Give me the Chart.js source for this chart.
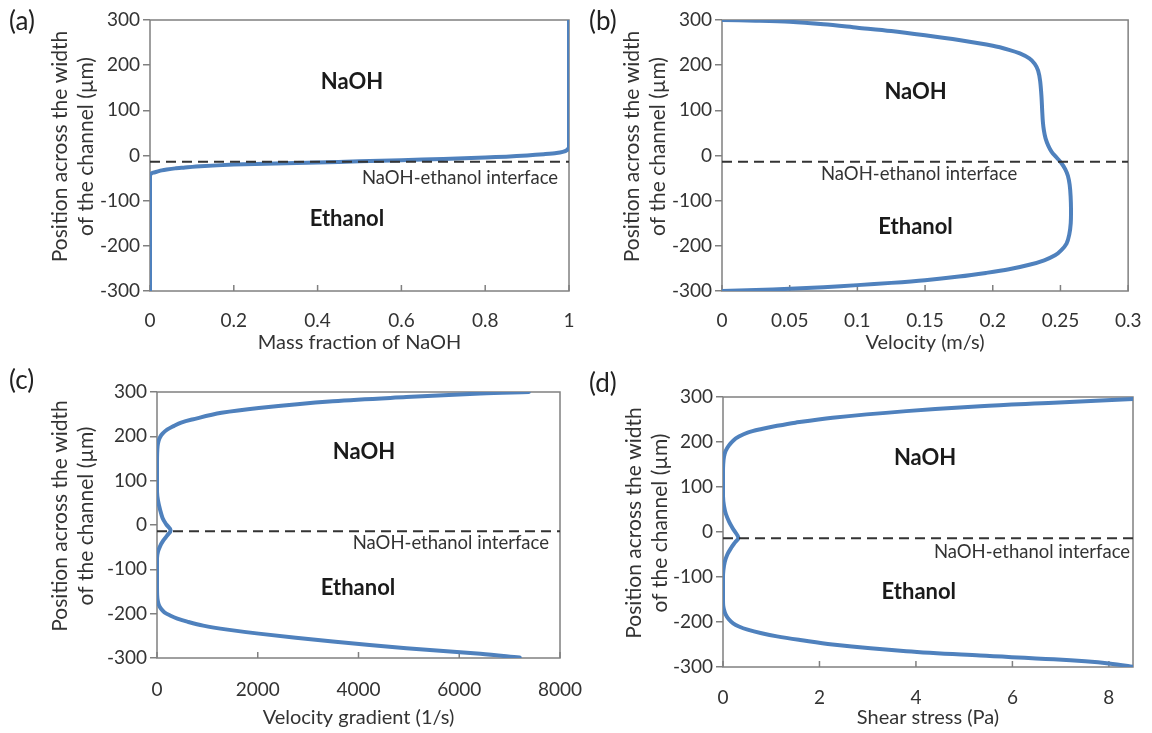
<!DOCTYPE html>
<html><head><meta charset="utf-8">
<script src="https://cdn.jsdelivr.net/npm/chart.js@4/dist/chart.umd.min.js"></script>
<style>
html,body{margin:0;padding:0;background:#fff;width:1152px;height:733px;overflow:hidden;}
canvas{position:absolute;}
</style></head><body>
<canvas id="ca" width="600" height="366" style="left:0;top:0"></canvas>
<canvas id="cb" width="576" height="366" style="left:576px;top:0"></canvas>
<canvas id="cc" width="600" height="367" style="left:0;top:366px"></canvas>
<canvas id="cd" width="576" height="367" style="left:576px;top:366px"></canvas>
<script>
// ---------- data ----------
const posTicks = [-300,-200,-100,0,100,200,300];
const interfacePos = -14;
const yTitleLines = ['Position across the width', 'of the channel (\u00b5m)'];

const fracTicks = [0,0.2,0.4,0.6,0.8,1];
const fracA = [0,0,0,0,0,0.003,0.008,0.016,0.028,0.04,0.06,0.08,0.12,0.2,0.3,0.4,0.5,0.6,0.7,0.8,0.85,0.9,0.94,0.97,0.985,0.995,1,1,1];
const posA  = [-300,-200,-100,-60,-43,-40,-38,-36,-33,-31,-28.5,-27,-24,-20,-17.5,-15.5,-13,-10.5,-7.5,-4.5,-2.5,0,3,5.5,8,12,19,60,300];

const velTicks = [0,0.05,0.1,0.15,0.2,0.25,0.3];
const velB = [0,0.025,0.05,0.075,0.1,0.125,0.15,0.175,0.2,0.212,0.22,0.227,0.231,0.2335,0.235,0.236,0.2365,0.237,0.2378,0.239,0.241,0.2435,0.247,0.2505,0.2535,0.2555,0.2568,0.2575,0.2578,0.2576,0.2565,0.2545,0.2505,0.246,0.238,0.227,0.212,0.195,0.175,0.15,0.125,0.1,0.075,0.05,0.025,0];
const posB = [300,298.5,296,290.5,283,275.5,266,255.5,243,234,226,215,203,188,165,130,100,75,55,38,22,8,-4,-16,-30,-45,-65,-90,-120,-150,-175,-195,-210,-221,-232,-242,-252,-260,-268,-276,-282,-287,-291.5,-295,-298,-300];

const gradTicks = [0,2000,4000,6000,8000];
const gradC = [7380,6420,4950,3490,2020,1280,700,480,330,200,110,60,30,12,3,0,0,20,60,110,180,270,200,120,60,20,0,0,3,12,35,80,147,260,404,600,917,1400,2020,3490,4950,6420,7200];
const posC  = [300,296.5,288.5,279,264,253,238,231,223,215,206,198,189,178,162,140,75,55,35,16,2,-12,-24,-36,-48,-60,-75,-140,-158,-169,-180,-189,-197,-204,-211,-218,-227,-236,-245,-263,-278,-290.5,-299];

const stressTicks = [0,2,4,6,8];
const stressD = [8.6,6.86,5.33,3.8,2.27,1.5,1.12,0.8,0.51,0.33,0.21,0.12,0.054,0.02,0.004,0,0,0.02,0.06,0.13,0.22,0.32,0.25,0.17,0.09,0.035,0.008,0,0,0.004,0.02,0.054,0.12,0.21,0.33,0.51,0.8,1.12,1.6,2.27,3.8,5.33,6.86,8.0,8.6];
const posD    = [296,287,279.6,268.6,254,243,236,229,221,212,203,192,180,167,150,133,80,58,40,22,5,-13,-23,-35,-50,-67,-85,-100,-150,-163,-172,-183,-194,-203,-210,-217,-225,-232,-240,-250,-265,-274.6,-283,-292,-301];

// ---------- drawing ----------
const FONT = 'Lato, "Open Sans", sans-serif';
const TXT = '#333333';
const FRAME = '#808080';
const BLUE = '#4F81BD';

const framePlugin = {
  id: 'frame',
  beforeDatasetsDraw(chart) {
    const {ctx, chartArea: a} = chart;
    const xs = chart.scales.x;
    ctx.save();
    ctx.strokeStyle = FRAME; ctx.lineWidth = 1.5;
    ctx.strokeRect(a.left, a.top, a.right - a.left, a.bottom - a.top);
    ctx.beginPath();
    xs.ticks.forEach(t => {
      const px = xs.getPixelForValue(t.value);
      ctx.moveTo(px, a.bottom); ctx.lineTo(px, a.bottom - 6);
    });
    ctx.stroke();
    ctx.restore();
  },
  afterDraw(chart) {
    const o = chart.options.plugins.frame;
    const {ctx, chartArea: a} = chart;
    const xs = chart.scales.x, ys = chart.scales.y;
    ctx.save();
    // y-axis title (two lines, rotated)
    ctx.fillStyle = TXT;
    ctx.font = '21px ' + FONT;
    ctx.textAlign = 'center'; ctx.textBaseline = 'middle';
    yTitleLines.forEach((line, i) => {
      ctx.save();
      ctx.translate(o.yTitleX + i * 26, (a.top + a.bottom) / 2 - 9);
      ctx.rotate(-Math.PI / 2);
      ctx.fillText(line, 0, 0);
      ctx.restore();
    });
    ctx.fillStyle = '#222';
    ctx.font = '26px ' + FONT;
    ctx.textAlign = 'left';
    ctx.fillText(o.panel, o.panelX, o.panelY);
    ctx.fillStyle = '#1a1a1a';
    ctx.font = 'bold 22px ' + FONT;
    ctx.textAlign = 'center';
    ctx.fillText('NaOH', xs.getPixelForValue(o.naoh[0]), ys.getPixelForValue(o.naoh[1]));
    ctx.fillText('Ethanol', xs.getPixelForValue(o.eth[0]), ys.getPixelForValue(o.eth[1]));
    ctx.fillStyle = TXT;
    ctx.font = '18.5px ' + FONT;
    ctx.textAlign = o.ifAlign;
    ctx.fillText('NaOH-ethanol interface', xs.getPixelForValue(o.iface[0]), ys.getPixelForValue(o.iface[1]));
    ctx.restore();
  }
};

function makePanel(id, c) {
  const L = c.l - c.cx, T = c.t - c.cy, R = c.r - c.cx, B = c.b - c.cy;
  const xTitleLH = 24, tickLH = 22.8;
  const yLeft = 30;
  const yWidth = L - yLeft;
  const xBottom = (c.xTitleY - c.cy) + xTitleLH / 2;
  const xHeight = xBottom - B;
  const xPad = (c.xLabelY - c.b) - tickLH / 2;
  const pts = c.xs.map((v, i) => ({x: v, y: c.ys[i]}));
  new Chart(document.getElementById(id), {
    type: 'scatter',
    data: { datasets: [
      { data: [{x: c.xmin, y: interfacePos}, {x: c.xmax, y: interfacePos}], showLine: true,
        borderColor: '#333', borderWidth: 2, borderDash: [10, 6], pointRadius: 0 },
      { data: pts, showLine: true, borderColor: BLUE, borderWidth: 4, pointRadius: 0,
        tension: c.tension, borderCapStyle: 'round', borderJoinStyle: 'round' }
    ]},
    options: {
      responsive: false, animation: false, events: [],
      layout: { padding: { left: yLeft, top: T, right: c.cw - R, bottom: c.ch - xBottom } },
      plugins: { legend: {display: false}, tooltip: {enabled: false},
        frame: { panel: c.panel, panelX: c.panelX, panelY: c.panelY, naoh: c.naoh, eth: c.eth, iface: c.iface,
          ifAlign: c.ifAlign, yTitleX: c.yTitleX - c.cx } },
      scales: {
        x: { type: 'linear', min: c.xmin, max: c.xmax,
          afterBuildTicks: s => { s.ticks = c.xticks.map(v => ({value: v})); },
          afterFit: s => { s.height = xHeight; },
          grid: { display: false }, border: { display: false },
          ticks: { autoSkip: false, maxRotation: 0, padding: xPad, color: TXT, font: {family: FONT, size: 19},
            callback: v => String(v) },
          title: { display: true, text: c.xtitle, color: TXT, padding: 0, font: {family: FONT, size: 20, lineHeight: 1.2} } },
        y: { type: 'linear', min: -300, max: 300,
          afterBuildTicks: s => { s.ticks = posTicks.map(v => ({value: v})); },
          afterFit: s => { s.width = yWidth; },
          grid: { drawOnChartArea: false, drawTicks: true, tickLength: 7, color: FRAME, lineWidth: 1.5 },
          border: { display: false },
          ticks: { autoSkip: false, padding: 3, color: TXT, font: {family: FONT, size: 19}, callback: v => String(v) },
          title: { display: false } }
      }
    },
    plugins: [framePlugin]
  });
}

makePanel('ca', { cx: 0, cy: 0, cw: 600, ch: 366, l: 150, t: 20, r: 569, b: 291,
  yTitleX: 60, xTitleY: 343, xLabelY: 313, xmin: 0, xmax: 1, xticks: fracTicks,
  xs: fracA, ys: posA, tension: 0.2, xtitle: 'Mass fraction of NaOH',
  panel: '(a)', panelX: 9, panelY: 22, naoh: [0.482, 163], eth: [0.47, -141], iface: [0.974, -50], ifAlign: 'right' });

makePanel('cb', { cx: 576, cy: 0, cw: 576, ch: 366, l: 722, t: 20, r: 1130, b: 291,
  yTitleX: 632, xTitleY: 343, xLabelY: 313, xmin: 0, xmax: 0.3, xticks: velTicks,
  xs: velB, ys: posB, tension: 0.3, xtitle: 'Velocity (m/s)',
  panel: '(b)', panelX: 13, panelY: 22, naoh: [0.143, 141], eth: [0.143, -159], iface: [0.1456, -41], ifAlign: 'center' });

makePanel('cc', { cx: 0, cy: 366, cw: 600, ch: 367, l: 157, t: 392, r: 560, b: 658,
  yTitleX: 60, xTitleY: 718, xLabelY: 682, xmin: 0, xmax: 8000, xticks: gradTicks,
  xs: gradC, ys: posC, tension: 0.35, xtitle: 'Velocity gradient (1/s)',
  panel: '(c)', panelX: 9, panelY: 15, naoh: [4109, 165], eth: [3990, -142], iface: [7781, -41], ifAlign: 'right' });

makePanel('cd', { cx: 576, cy: 366, cw: 576, ch: 367, l: 723, t: 397, r: 1133, b: 667,
  yTitleX: 634, xTitleY: 718, xLabelY: 690, xmin: 0, xmax: 8.5, xticks: stressTicks,
  xs: stressD, ys: posD, tension: 0.35, xtitle: 'Shear stress (Pa)',
  panel: '(d)', panelX: 13, panelY: 18, naoh: [4.19, 164], eth: [4.06, -133], iface: [8.44, -44], ifAlign: 'right' });
</script>
</body></html>
